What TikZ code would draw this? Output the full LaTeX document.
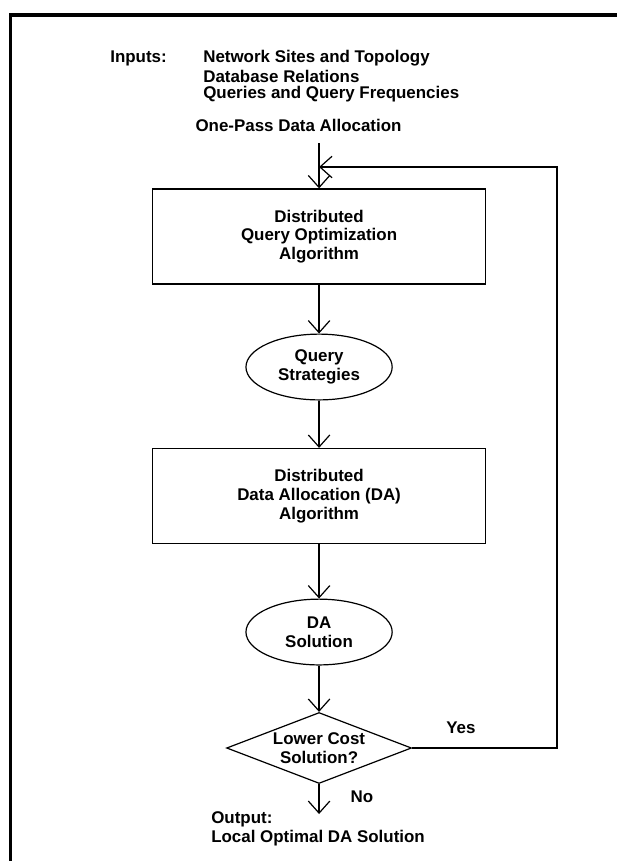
\documentclass[tikz,border=0pt]{standalone}
\usepackage{fontspec}
\setmainfont{Liberation Sans}
\usetikzlibrary{shapes.geometric,arrows.meta}

\tikzset{
  flow/.style={-{Straight Barb[length=2.8mm,width=5mm]}, line width=0.8pt},
  procbox/.style={draw, line width=0.8pt, minimum width=7.74cm, minimum height=2.21cm, align=center, inner sep=0pt},
  databubble/.style={draw, ellipse, line width=0.8pt, minimum width=3.4cm, minimum height=1.53cm, align=center, inner sep=0pt},
  decision/.style={draw, diamond, line width=0.8pt, aspect=2.29, minimum width=4.3cm, align=center, inner sep=0pt}
}

\begin{document}
\begin{tikzpicture}[font=\fontsize{11.2}{12.4}\selectfont\bfseries, inner sep=0pt]
 \useasboundingbox (0,0) rectangle (14.349,-20.023);

 % frame of the page (only top and left edges)
 \draw[line width=2.2pt] (0.25,-20.023) -- (0.25,-0.349) -- (14.349,-0.349);

 % inputs of the one-pass allocation
 \node[anchor=west] (inputs) at (2.558,-1.349) {Inputs:};
 \node[anchor=west] (netsites) at (4.721,-1.349) {Network Sites and Topology};
 \node[anchor=west] (dbrel) at (4.721,-1.767) {Database Relations};
 \node[anchor=west] (queries) at (4.721,-2.186) {Queries and Query Frequencies};
 \node (onepass) at (6.942,-2.907) {One-Pass Data Allocation};

 \coordinate (start) at (7.42,-3.326);
 \coordinate (join) at (7.42,-3.884);
 \coordinate (fbtop) at (12.953,-3.884);

 % main chain
 \node[procbox] (dqo) at (7.42,-5.5) {Distributed\\Query Optimization\\Algorithm};
 \node[databubble] (qstrat) at (7.42,-8.535) {Query\\Strategies};
 \node[procbox] (dda) at (7.42,-11.535) {Distributed\\Data Allocation (DA)\\Algorithm};
 \node[databubble] (dasol) at (7.42,-14.698) {DA\\Solution};
 \node[decision] (lower) at (7.42,-17.395) {Lower Cost\\Solution?};
 \coordinate (outtip) at (7.42,-18.93);

 \node (yes) at (10.72,-16.93) {Yes};
 \node (no) at (8.419,-18.535) {No};
 \node[anchor=west, align=left] (output) at (4.907,-19.28) {Output:\\Local Optimal DA Solution};

 \draw[flow] (start) -- (dqo.north);
 \draw[flow] (dqo) -- (qstrat);
 \draw[flow] (qstrat) -- (dda);
 \draw[flow] (dda) -- (dasol);
 \draw[flow] (dasol) -- (lower);
 \draw[flow] (lower.east) -| (fbtop) -- (join); % Yes: back to the top
 \draw[flow] (lower) -- (outtip); % No: leave the loop

\end{tikzpicture}
\end{document}
